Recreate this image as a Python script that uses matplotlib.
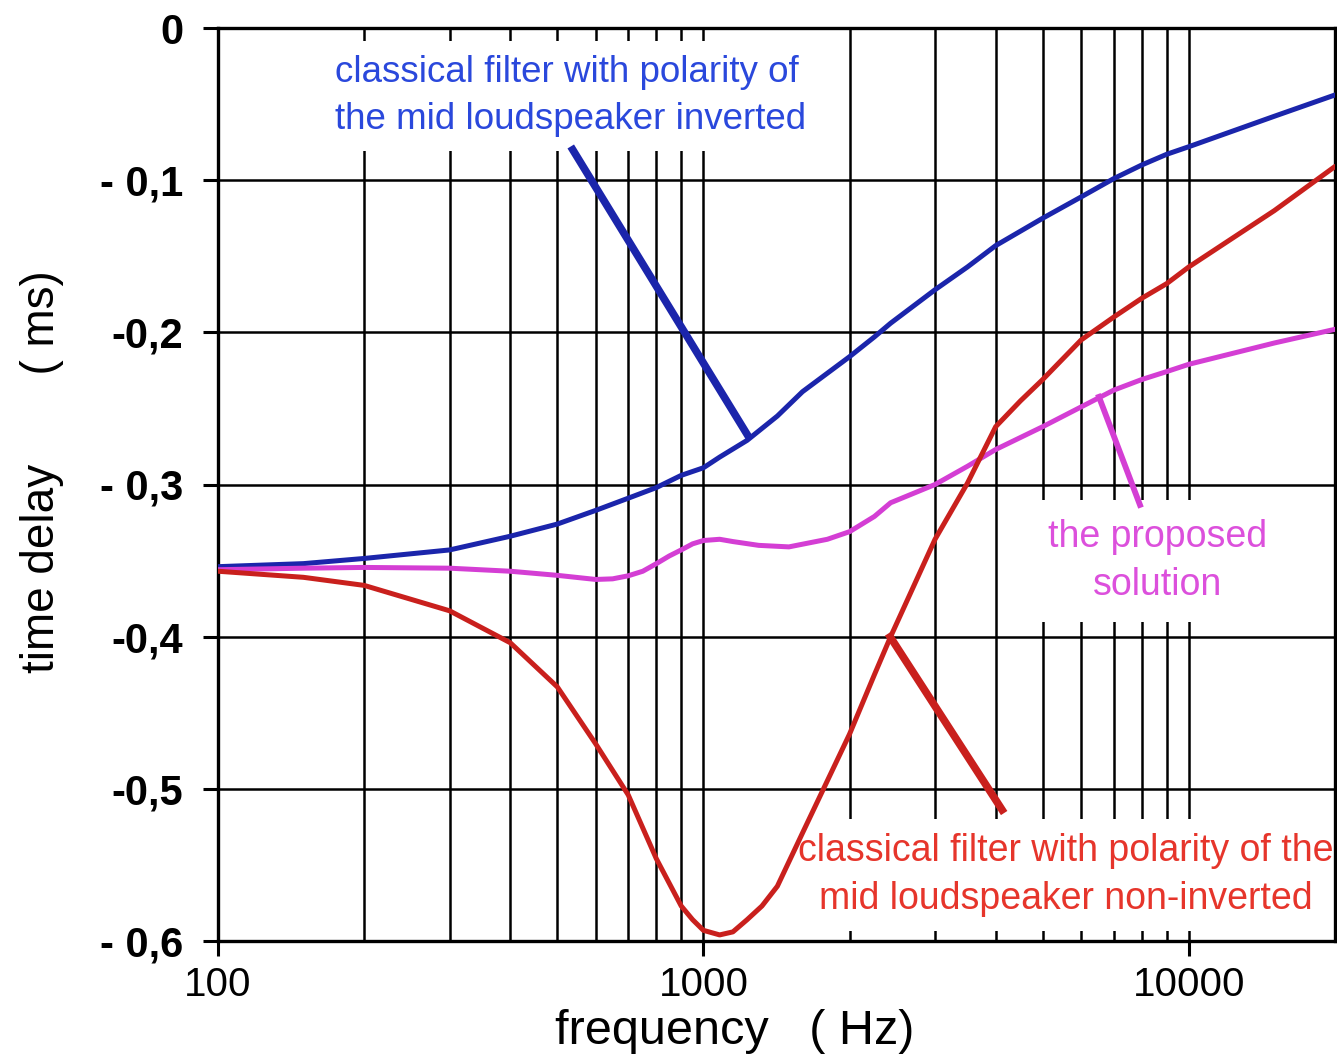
import matplotlib
matplotlib.use("Agg")
import matplotlib.pyplot as plt
from matplotlib.ticker import FixedLocator, FixedFormatter, NullFormatter

plt.rcParams['font.family'] = ['Liberation Sans', 'DejaVu Sans']

# Group delay of the three crossover variants, read at these frequencies (Hz)
freq_inv = [100, 150, 200, 300, 400, 500, 600, 700, 800, 900, 1000, 1080, 1230,
            1420, 1600, 2000, 2250, 2430, 3000, 3500, 4000, 5000, 6000, 7000,
            8000, 9000, 10000, 15000, 20000]
inverted = [-0.354, -0.352, -0.3486, -0.343, -0.334, -0.326, -0.317, -0.309,
            -0.302, -0.294, -0.289, -0.282, -0.271, -0.255, -0.239, -0.216,
            -0.203, -0.194, -0.172, -0.157, -0.143, -0.125, -0.111, -0.099,
            -0.090, -0.083, -0.078, -0.058, -0.044]

freq_prop = [100, 150, 200, 300, 400, 500, 600, 650, 700, 750, 800, 850, 900,
             950, 1000, 1080, 1150, 1300, 1500, 1800, 2000, 2250, 2430, 3000,
             3500, 4000, 5000, 6000, 7000, 8000, 9000, 10000, 15000, 20000]
proposed = [-0.356, -0.355, -0.3545, -0.355, -0.357, -0.3597, -0.3624, -0.362,
            -0.360, -0.357, -0.352, -0.347, -0.343, -0.339, -0.3368, -0.336,
            -0.3375, -0.340, -0.341, -0.336, -0.331, -0.321, -0.312, -0.300,
            -0.288, -0.277, -0.262, -0.249, -0.238, -0.231, -0.2258, -0.221,
            -0.207, -0.198]

freq_non = [100, 150, 200, 300, 400, 500, 600, 700, 800, 900, 950, 1000, 1080,
            1150, 1230, 1320, 1420, 1600, 2000, 2250, 2430, 3000, 3500, 4000,
            4500, 5000, 6000, 7000, 8000, 9000, 10000, 15000, 20000]
non_inverted = [-0.357, -0.361, -0.3663, -0.383, -0.404, -0.433, -0.4705, -0.504,
                -0.546, -0.577, -0.586, -0.593, -0.596, -0.594, -0.586, -0.577,
                -0.564, -0.529, -0.464, -0.425, -0.400, -0.336, -0.299, -0.262,
                -0.245, -0.231, -0.205, -0.190, -0.1776, -0.168, -0.157, -0.120,
                -0.091]

# Pointer segments from each caption to its curve: (freq, delay) pairs
inverted_pointer_f = [538, 1232]
inverted_pointer_t = [-0.080, -0.2674]
proposed_pointer_f = [6528, 7929]
proposed_pointer_t = [-0.2424, -0.3134]
non_inverted_pointer_f = [2425, 4123]
non_inverted_pointer_t = [-0.4001, -0.5138]

y_ticks = [0, -0.1, -0.2, -0.3, -0.4, -0.5, -0.6]
y_tick_labels = ["0", "- 0,1", "-0,2", "- 0,3", "-0,4", "-0,5", "- 0,6"]
x_ticks = [100, 1000, 10000]
x_tick_labels = ["100", "1000", "10000"]
x_minor = [200, 300, 400, 500, 600, 700, 800, 900,
           2000, 3000, 4000, 5000, 6000, 7000, 8000, 9000]

W, H = 1337, 1058
fig = plt.figure(figsize=(W / 100, H / 100), dpi=100)
ax = fig.add_axes([218 / W, 1 - 941 / H, (1335 - 218) / W, (941 - 28) / H])
ax.set_xscale('log')
ax.set_xlim(100, 20000)
ax.set_ylim(-0.6, 0)

ax.xaxis.set_major_locator(FixedLocator(x_ticks))
ax.xaxis.set_major_formatter(FixedFormatter(x_tick_labels))
ax.xaxis.set_minor_locator(FixedLocator(x_minor))
ax.xaxis.set_minor_formatter(NullFormatter())
ax.yaxis.set_major_locator(FixedLocator(y_ticks))
ax.yaxis.set_major_formatter(FixedFormatter(y_tick_labels))

ax.set_axisbelow(True)
ax.grid(which='both', axis='x', color='black', lw=1.8)
ax.grid(which='major', axis='y', color='black', lw=1.8)

ax.tick_params(which='major', direction='out', length=11, width=2.2,
               color='black')
ax.tick_params(axis='x', which='minor', length=0)
ax.tick_params(axis='y', labelsize=30, pad=14)
ax.tick_params(axis='x', labelsize=29, pad=7)
for lbl in ax.get_yticklabels():
    lbl.set_fontweight('bold')

for side in ['left', 'bottom', 'top', 'right']:
    ax.spines[side].set_linewidth(2.4)

blue_line = '#1b25ab'
mag_line = '#d43ed4'
red_line = '#c9201d'

ax.plot(freq_inv, inverted, color=blue_line, lw=3.6, zorder=4,
        solid_capstyle='round', solid_joinstyle='round')
ax.plot(freq_prop, proposed, color=mag_line, lw=3.6, zorder=4,
        solid_capstyle='round', solid_joinstyle='round')
ax.plot(freq_non, non_inverted, color=red_line, lw=3.6, zorder=4,
        solid_capstyle='round', solid_joinstyle='round')

ax.plot(inverted_pointer_f, inverted_pointer_t, color=blue_line, lw=5.5, zorder=4)
ax.plot(proposed_pointer_f, proposed_pointer_t, color=mag_line, lw=4.2, zorder=4)
ax.plot(non_inverted_pointer_f, non_inverted_pointer_t, color=red_line, lw=5.5, zorder=4)

# Captions sit above the grid but below the curves
box = dict(facecolor='white', edgecolor='none', pad=10)
ax.text(335 / W, 1 - 96 / H,
        "classical filter with polarity of\nthe mid loudspeaker inverted",
        transform=fig.transFigure, color='#2a48dc', fontsize=26.5,
        ha='left', va='center', linespacing=1.42, bbox=box, zorder=2,
        clip_on=False)
ax.text(1158 / W, 1 - 561 / H, "the proposed\nsolution",
        transform=fig.transFigure, color='#dc50dc', fontsize=27,
        ha='center', va='center', multialignment='center', linespacing=1.42,
        bbox=dict(facecolor='white', edgecolor='none', pad=14), zorder=2,
        clip_on=False)
ax.text(1066 / W, 1 - 875 / H,
        "classical filter with polarity of the\nmid loudspeaker non-inverted",
        transform=fig.transFigure, color='#e6352b', fontsize=27,
        ha='center', va='center', multialignment='center', linespacing=1.42,
        bbox=box, zorder=2, clip_on=False)

fig.text(735 / W, 1 - 1031 / H, "frequency   ( Hz)", fontsize=35,
         ha='center', va='center')
fig.text(42 / W, 1 - 472 / H, "time delay       ( ms)", fontsize=33,
         ha='center', va='center', rotation=90)

fig.savefig("out.png", dpi=100, facecolor='white')
